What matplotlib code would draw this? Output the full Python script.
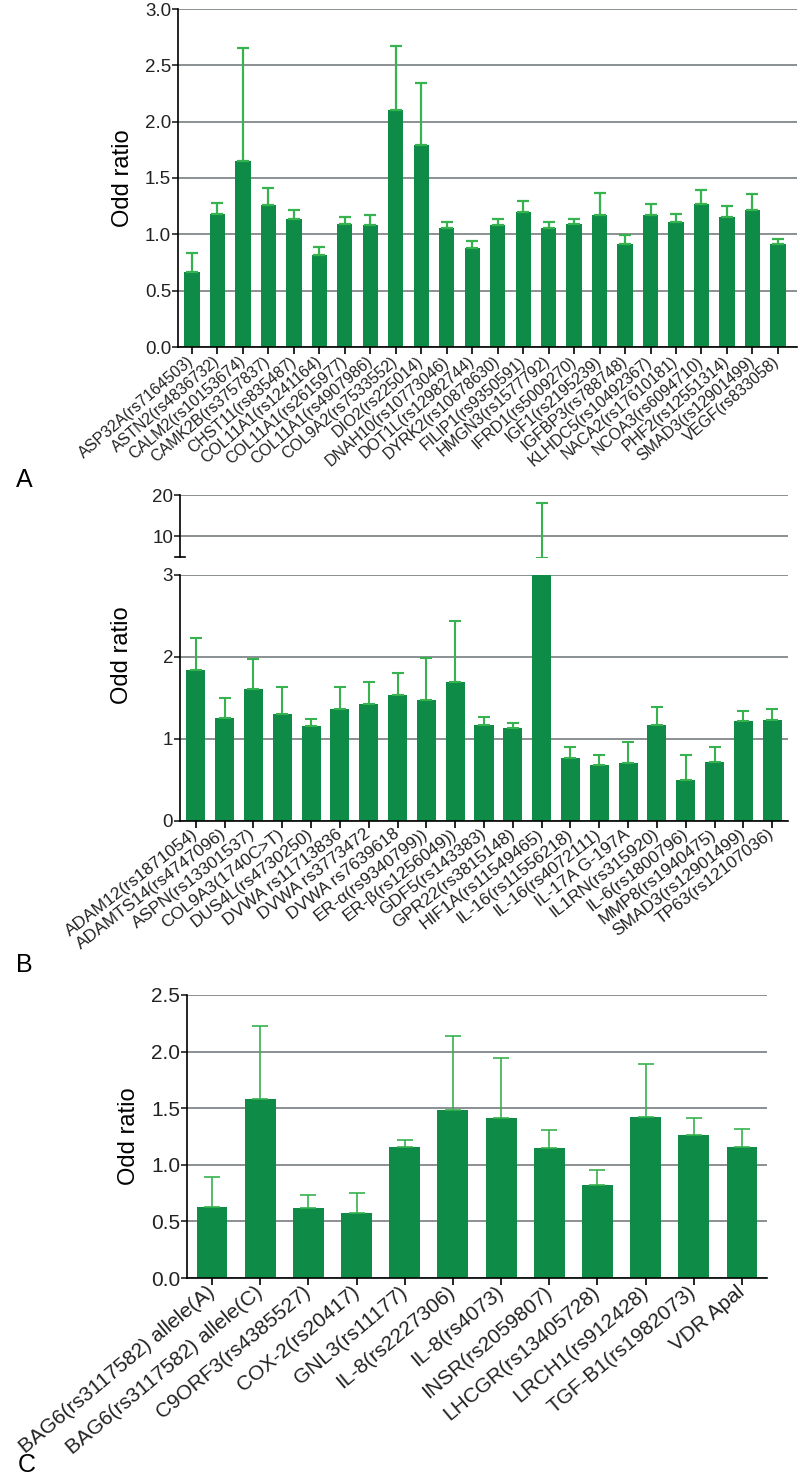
import numpy as np
import matplotlib
matplotlib.use("Agg")
import matplotlib.pyplot as plt

plt.rcParams['font.family'] = ['Liberation Sans', 'DejaVu Sans']

# Panel A
genes_a = ["ASP32A(rs7164503)", "ASTN2(rs4836732)", "CALM2(rs10153674)", "CAMK2B(rs3757837)",
           "CHST11(rs835487)", "COL11A1(rs1241164)", "COL11A1(rs2615977)", "COL11A1(rs4907986)",
           "COL9A2(rs7533552)", "DIO2(rs225014)", "DNAH10(rs10773046)", "DOT1L(rs12982744)",
           "DYRK2(rs10878630)", "FILIP1(rs9350591)", "HMGN3(rs1577792)", "IFRD1(rs5009270)",
           "IGF1(rs2195239)", "IGFBP3(rs788748)", "KLHDC5(rs10492367)", "NACA2(rs17610181)",
           "NCOA3(rs6094710)", "PHF2(rs12551314)", "SMAD3(rs12901499)", "VEGF(rs833058)"]
or_a = [0.67, 1.18, 1.65, 1.26, 1.14, 0.82, 1.09, 1.08, 2.10, 1.79, 1.06, 0.88,
        1.08, 1.20, 1.06, 1.09, 1.17, 0.91, 1.17, 1.11, 1.27, 1.15, 1.22, 0.91]
hi_a = [0.83, 1.28, 2.65, 1.41, 1.22, 0.89, 1.15, 1.17, 2.67, 2.34, 1.11, 0.94,
        1.14, 1.30, 1.11, 1.14, 1.37, 0.99, 1.27, 1.18, 1.39, 1.25, 1.36, 0.96]

# Panel B
genes_b = ["ADAM12(rs1871054)", "ADAMTS14(rs4747096)", "ASPN(rs13301537)", "COL9A3(1740C>T)",
           "DUS4L(rs4730250)", "DVWA rs11713836", "DVWA rs3773472", "DVWA rs7639618",
           "ER-α(rs9340799))", "ER-β(rs1256049))", "GDF5(rs143383)", "GPR22(rs3815148)",
           "HIF1A(rs11549465)", "IL-16(rs11556218)", "IL-16(rs4072111)", "IL-17A G-197A",
           "IL1RN(rs315920)", "IL-6(rs1800796)", "MMP8(rs1940475)", "SMAD3(rs12901499)",
           "TP63(rs12107036)"]
or_b = [1.84, 1.25, 1.61, 1.31, 1.16, 1.37, 1.43, 1.54, 1.47, 1.69, 1.17, 1.14,
        4.6, 0.77, 0.68, 0.71, 1.17, 0.50, 0.72, 1.22, 1.23]
hi_b = [2.23, 1.50, 1.97, 1.63, 1.24, 1.63, 1.70, 1.81, 1.99, 2.44, 1.27, 1.20,
        18.1, 0.90, 0.81, 0.96, 1.39, 0.80, 0.90, 1.34, 1.36]

# Panel C
genes_c = ["BAG6(rs3117582) allele(A)", "BAG6(rs3117582) allele(C)", "C9ORF3(rs4385527)",
           "COX-2(rs20417)", "GNL3(rs11177)", "IL-8(rs2227306)", "IL-8(rs4073)",
           "INSR(rs2059807)", "LHCGR(rs13405728)", "LRCH1(rs912428)", "TGF-B1(rs1982073)",
           "VDR Apal"]
or_c = [0.63, 1.58, 0.62, 0.57, 1.16, 1.48, 1.41, 1.15, 0.82, 1.42, 1.26, 1.16]
hi_c = [0.89, 2.23, 0.73, 0.75, 1.22, 2.14, 1.94, 1.31, 0.95, 1.89, 1.41, 1.32]

W, H = 800, 1482
fig = plt.figure(figsize=(W / 100, H / 100), dpi=100)

BAR = '#0e8c47'
ERR = '#36b24e'
GRID = '#8a8f92'


def px_axes(l, t, r, b):
    return fig.add_axes([l / W, 1 - b / H, (r - l) / W, (b - t) / H])


def draw(ax, vals, hi, width, cap, elw):
    x = np.arange(len(vals))
    vals = np.array(vals)
    hi = np.array(hi)
    ax.bar(x, vals, width=width, color=BAR, zorder=2)
    ax.errorbar(x, vals, yerr=[np.zeros_like(vals), hi - vals], fmt='none',
                ecolor=ERR, elinewidth=elw, capsize=cap, capthick=elw, zorder=3)
    ax.yaxis.grid(True, color=GRID, lw=1.4, zorder=0)
    ax.set_axisbelow(True)
    for s in ['top', 'right']:
        ax.spines[s].set_visible(False)
    for s in ['left', 'bottom']:
        ax.spines[s].set_linewidth(1.2)
    ax.tick_params(axis='y', length=4, width=1.2, pad=1, colors='#222222')
    ax.tick_params(axis='x', length=5, width=1.2, pad=1)
    return x


def xlabels(ax, x, labels, fs, rot):
    ax.set_xticks(x)
    ax.set_xticklabels(labels, rotation=rot, ha='right', va='center',
                       rotation_mode='anchor', fontsize=fs, color='#222222')
    for t in ax.get_xticklabels():
        t.set_y(-0.012)


# ---- A
axA = px_axes(178, 9, 797, 347)
x = draw(axA, or_a, hi_a, 0.6, 4, 1.6)
axA.set_xlim(-0.55, 23.75)
axA.set_ylim(0, 3.0)
axA.set_yticks(np.arange(0, 3.01, 0.5))
axA.set_yticklabels([f"{v:.1f}" for v in np.arange(0, 3.01, 0.5)], fontsize=13.5)
xlabels(axA, x, genes_a, 11.5, 41)
axA.set_ylabel("Odd ratio", fontsize=17, labelpad=8)

# ---- B
axBu = px_axes(180, 495, 788, 557)
axBl = px_axes(180, 575, 788, 821)
for ax in (axBu, axBl):
    x = draw(ax, or_b, hi_b, 0.66, 4, 1.5)
    ax.set_xlim(-0.55, 20.55)
axBu.set_ylim(4.9, 20)
axBu.set_yticks([10, 20])
axBu.set_yticklabels(["10", "20"], fontsize=13.5)
axBu.spines['bottom'].set_visible(False)
axBu.tick_params(axis='x', bottom=False, labelbottom=False)
axBu.plot([-0.008, 0.008], [0, 0], transform=axBu.transAxes, color='black',
          lw=1.2, clip_on=False)
axBl.set_ylim(0, 3)
axBl.set_yticks([0, 1, 2, 3])
axBl.set_yticklabels(["0", "1", "2", "3"], fontsize=13.5)
xlabels(axBl, x, genes_b, 12.5, 38)
fig.text(122 / W, 1 - 655 / H, "Odd ratio", rotation=90, ha='center', va='center',
         fontsize=17)

# ---- C
axC = px_axes(187, 995, 767, 1278)
x = draw(axC, or_c, hi_c, 0.64, 6, 1.2)
axC.set_xlim(-0.52, 11.52)
axC.set_ylim(0, 2.5)
axC.set_yticks(np.arange(0, 2.51, 0.5))
axC.set_yticklabels([f"{v:.1f}" for v in np.arange(0, 2.51, 0.5)], fontsize=15)
xlabels(axC, x, genes_c, 15, 40)
axC.set_ylabel("Odd ratio", fontsize=17, labelpad=8)

for letter, (lx, ly) in {"A": (24, 480), "B": (24, 965), "C": (27, 1465)}.items():
    fig.text(lx / W, 1 - ly / H, letter, ha='center', va='center', fontsize=18)

fig.savefig("out.png", dpi=100)
